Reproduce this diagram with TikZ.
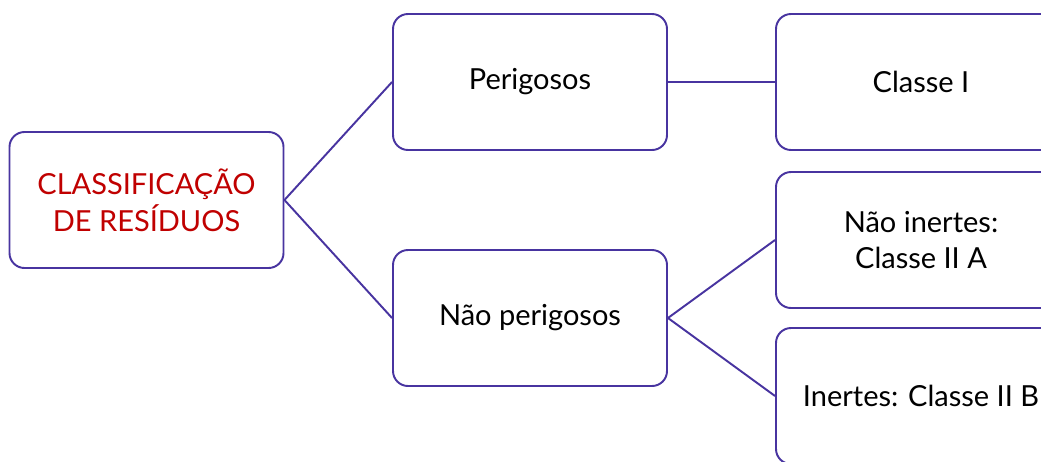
\documentclass[tikz,border=0pt]{standalone}
\usepackage{fontspec}
\setmainfont{Lato}
\usepackage{tikz}
\definecolor{boxline}{RGB}{72,52,160}
\definecolor{rootred}{RGB}{192,0,0}

\begin{document}
\begin{tikzpicture}[scale=0.2]
\tikzstyle{every node}+=[inner sep=0pt]
\tikzstyle{box}=[draw=boxline, line width=1.1pt, rounded corners=0.3cm, fill=white,
  minimum width=5.48cm, minimum height=2.72cm, align=center, font=\fontsize{16.5}{21}\selectfont]
\tikzstyle{endbox}=[box, minimum width=5.8cm]
\clip (0,0) rectangle (104.1,-46.1);
\node [box, text=rootred] (root) at (14.65,-20) {CLASSIFICAÇÃO\\DE RESÍDUOS};
\node [box] (per) at (53,-8.2) {Perigosos};
\node [box] (nper) at (53,-31.8) {Não perigosos};
\node [endbox] (c1) at (92.1,-8.2) {Classe I};
\node [endbox] (c2a) at (92.1,-24) {Não inertes:\\Classe II A};
\node [endbox] (c2b) at (92.1,-39.6) {Inertes: Classe II B};
\draw [boxline, line width=1.1pt] (root.east) -- (per.west);
\draw [boxline, line width=1.1pt] (root.east) -- (nper.west);
\draw [boxline, line width=1.1pt] (per.east) -- (c1.west);
\draw [boxline, line width=1.1pt] (nper.east) -- (c2a.west);
\draw [boxline, line width=1.1pt] (nper.east) -- (c2b.west);
\end{tikzpicture}
\end{document}
